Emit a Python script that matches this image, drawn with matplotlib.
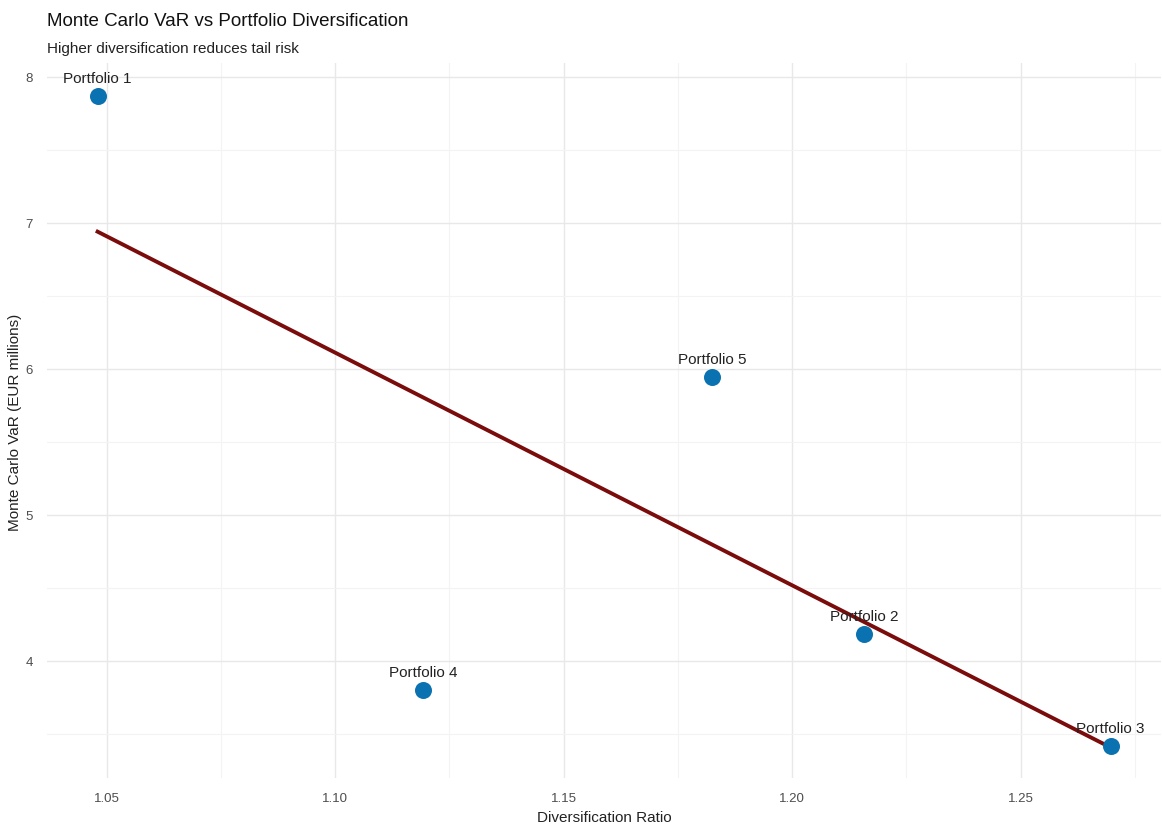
import numpy as np
import matplotlib
matplotlib.use("Agg")
import matplotlib.pyplot as plt
from matplotlib.ticker import MultipleLocator

plt.rcParams['font.family'] = ['Liberation Sans', 'DejaVu Sans']

portfolios = ["Portfolio 1", "Portfolio 2", "Portfolio 3", "Portfolio 4", "Portfolio 5"]
div_ratio = [1.048, 1.2157, 1.2697, 1.1192, 1.1825]
mc_var = [7.87, 4.185, 3.418, 3.801, 5.945]

fig = plt.figure(figsize=(11.62, 8.28), dpi=100)
ax = fig.add_axes([0.0404, 0.0586, 0.9590, 0.8636])

# linear fit (geom_smooth lm)
x = np.array(div_ratio)
y = np.array(mc_var)
slope, intercept = np.polyfit(x, y, 1)
xs = np.array([x.min(), x.max()])
ax.plot(xs, slope * xs + intercept, color="#7a0c0c", lw=2.8, zorder=3)

ax.scatter(div_ratio, mc_var, s=150, color="#0a72b0", zorder=4, linewidths=0)

for name, xi, yi in zip(portfolios, div_ratio, mc_var):
    ax.annotate(name, (xi, yi), xytext=(0, 8), textcoords="offset points",
                ha="center", va="bottom", fontsize=11, color="#222222", zorder=5)

xr = x.max() - x.min()
yr = y.max() - y.min()
ax.set_xlim(x.min() - 0.05 * xr, x.max() + 0.05 * xr)
ax.set_ylim(y.min() - 0.05 * yr, y.max() + 0.05 * yr)

ax.xaxis.set_major_locator(MultipleLocator(0.05))
ax.xaxis.set_minor_locator(MultipleLocator(0.025))
ax.yaxis.set_major_locator(MultipleLocator(1))
ax.yaxis.set_minor_locator(MultipleLocator(0.5))
ax.xaxis.set_major_formatter(matplotlib.ticker.FormatStrFormatter("%.2f"))

ax.grid(which="major", color="#e8e8e8", lw=1.0)
ax.grid(which="minor", color="#f3f3f3", lw=0.8)
ax.set_axisbelow(True)
for s in ax.spines.values():
    s.set_visible(False)
ax.tick_params(which="both", length=0, labelsize=9.5, labelcolor="#4d4d4d")
ax.tick_params(axis="x", pad=10)
ax.tick_params(axis="y", pad=10)

ax.set_xlabel("Diversification Ratio", fontsize=11, color="#222222", labelpad=4)
ax.set_ylabel("Monte Carlo VaR (EUR millions)", fontsize=11, color="#222222", labelpad=3)

fig.text(0.0404, 0.969, "Monte Carlo VaR vs Portfolio Diversification", fontsize=13.5,
         color="#111111", va="baseline")
fig.text(0.0404, 0.936, "Higher diversification reduces tail risk", fontsize=11,
         color="#222222", va="baseline")

fig.savefig("out.png", dpi=100)
